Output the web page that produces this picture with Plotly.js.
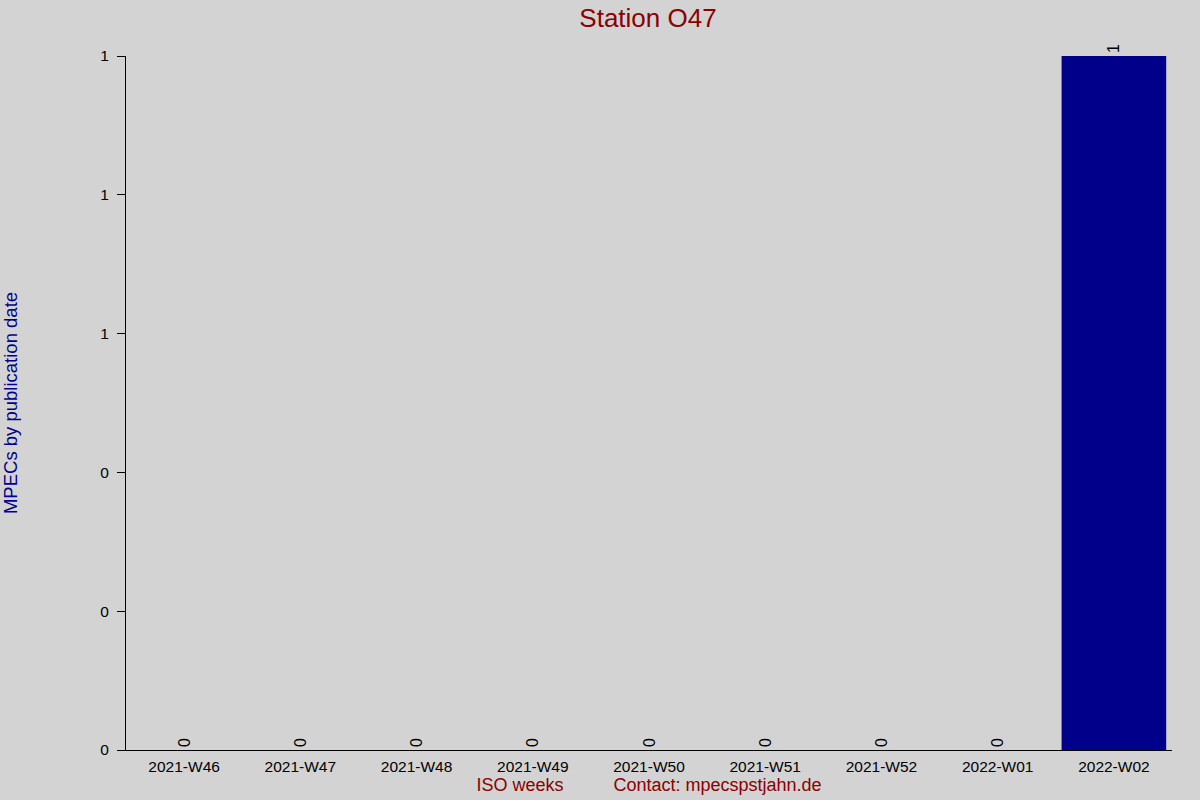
<!DOCTYPE html>
<html>
<head>
<meta charset="utf-8">
<script src="https://cdn.plot.ly/plotly-3.0.1.min.js"></script>
<style>
  html, body { margin: 0; padding: 0; background: #d3d3d3; }
  #plotDiv { width: 1200px; height: 800px; }
</style>
</head>
<body>
<div id="plotDiv"></div>
<script>
// Weekly MPEC counts for one observatory station
const weeks = ['2021-W46', '2021-W47', '2021-W48', '2021-W49', '2021-W50',
               '2021-W51', '2021-W52', '2022-W01', '2022-W02'];
const counts = [0, 0, 0, 0, 0, 0, 0, 0, 1];

const FONT = 'Liberation Sans, Arial, sans-serif';
const DARK_RED = '#8b0000';
const DARK_BLUE = '#00008b';
const GAP = '\u00a0'.repeat(10);

const traces = [{
    type: 'bar',
    x: weeks,
    y: counts,
    marker: { color: DARK_BLUE, line: { width: 0 } },
    text: counts.map(String),
    textposition: 'outside',
    textangle: -90,
    textfont: { family: FONT, size: 16, color: '#000' },
    cliponaxis: false,
    hoverinfo: 'skip',
}];

const layout = {
    width: 1200,
    height: 800,
    paper_bgcolor: '#d3d3d3',
    plot_bgcolor: '#d3d3d3',
    font: { family: FONT, size: 16, color: '#000' },
    showlegend: false,
    bargap: 0.1,
    margin: { l: 126, r: 28, t: 56, b: 50 },
    title: {
        text: 'Station O47',
        font: { family: FONT, size: 26, color: DARK_RED },
        x: 0.54, xanchor: 'center',
        y: 0.978, yanchor: 'middle',
    },
    xaxis: {
        type: 'category',
        showline: true, linecolor: '#000', linewidth: 1,
        ticks: '', showgrid: false, zeroline: false,
        tickfont: { family: FONT, size: 15.5, color: '#000' },
        ticklabelstandoff: 2,
        title: {
            text: 'ISO weeks' + GAP + 'Contact: mpecspstjahn.de',
            font: { family: FONT, size: 18, color: DARK_RED },
            standoff: 3,
        },
        automargin: false,
    },
    yaxis: {
        range: [0, 1],
        dtick: 0.2, tick0: 0,
        tickformat: '.0f',
        showline: true, linecolor: '#000', linewidth: 1,
        ticks: 'outside', ticklen: 8, tickcolor: '#000',
        ticklabelstandoff: 5,
        showgrid: false, zeroline: false,
        tickfont: { family: FONT, size: 15.5, color: '#000' },
        title: {
            text: 'MPECs by publication date',
            font: { family: FONT, size: 18.5, color: DARK_BLUE },
            standoff: 86,
        },
        automargin: false,
    },
};

Plotly.newPlot('plotDiv', traces, layout, { displayModeBar: false, staticPlot: true });
</script>
</body>
</html>
